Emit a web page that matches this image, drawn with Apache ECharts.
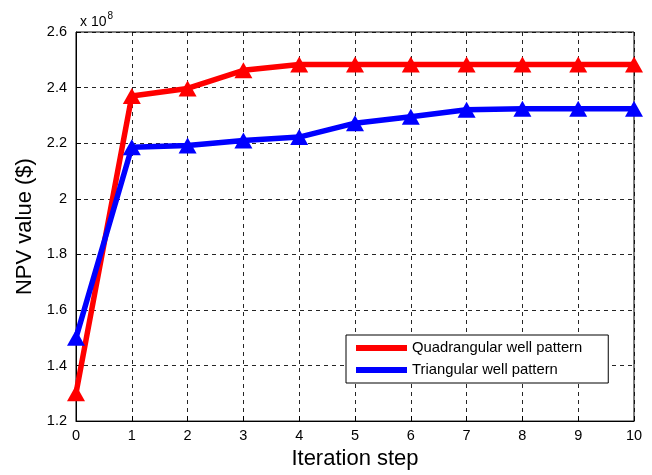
<!DOCTYPE html>
<html>
<head>
<meta charset="utf-8">
<script src="https://cdn.jsdelivr.net/npm/echarts@6/dist/echarts.min.js"></script>
<style>
  html, body { margin: 0; padding: 0; background: #fff; }
  #chart { width: 652px; height: 475px; }
</style>
</head>
<body>
<div id="chart"></div>
<script>
// Iteration steps of the optimisation
const steps = [0, 1, 2, 3, 4, 5, 6, 7, 8, 9, 10];
// NPV ($) per iteration for each well pattern
const npvQuadrangular = [1.30e8, 2.37e8, 2.397e8, 2.462e8, 2.483e8, 2.483e8, 2.483e8, 2.483e8, 2.483e8, 2.483e8, 2.483e8];
const npvTriangular   = [1.50e8, 2.185e8, 2.192e8, 2.21e8, 2.222e8, 2.272e8, 2.295e8, 2.32e8, 2.324e8, 2.324e8, 2.324e8];
const seriesNames = ['Quadrangular well pattern', 'Triangular well pattern'];
const yScale = 1e8;

const chart = echarts.init(document.getElementById('chart'), null, { renderer: 'canvas' });
const font = 'Liberation Sans, Arial, Helvetica, sans-serif';
const gridLine = { show: true, lineStyle: { color: '#000', type: [4, 4], width: 1, opacity: 0.85 } };

function mkSeries(name, vals, color) {
  return {
    name: name,
    type: 'line',
    data: steps.map((s, i) => [s, vals[i]]),
    symbol: 'triangle',
    symbolSize: [18, 16],
    lineStyle: { color: color, width: 5.5 },
    itemStyle: { color: color },
    emphasis: { disabled: true },
    z: 3
  };
}

chart.setOption({
  animation: false,
  backgroundColor: '#fff',
  grid: { left: 76, right: 18, top: 32, bottom: 50, show: true, borderColor: '#000', borderWidth: 1, backgroundColor: 'transparent' },
  title: {
    text: '{a|x 10}{b|8}',
    left: 75, top: 6,
    textStyle: { fontWeight: 'normal', rich: {
      a: { fontFamily: font, fontSize: 14, fontWeight: 'normal', color: '#000', verticalAlign: 'bottom' },
      b: { fontFamily: font, fontSize: 10, fontWeight: 'normal', color: '#000', verticalAlign: 'top', padding: [0, 0, 8, 1] }
    } }
  },
  legend: {
    data: seriesNames,
    orient: 'vertical',
    left: 346, top: 335,
    padding: [5, 26, 5, 10],
    itemGap: 6,
    itemWidth: 51, itemHeight: 6,
    backgroundColor: '#fff',
    borderColor: '#000', borderWidth: 1, borderRadius: 0,
    icon: 'rect',
    textStyle: { fontFamily: font, fontSize: 14.8, lineHeight: 16, color: '#000' }
  },
  xAxis: {
    type: 'value', min: 0, max: 10, interval: 1,
    name: 'Iteration step', nameLocation: 'middle', nameGap: 26,
    nameTextStyle: { fontFamily: font, fontSize: 22, color: '#000' },
    axisLine: { show: true, lineStyle: { color: '#000', width: 1 } },
    axisTick: { show: true, inside: true, length: 5, lineStyle: { color: '#000' } },
    axisLabel: { fontFamily: font, fontSize: 14.5, color: '#000', margin: 7 },
    splitLine: gridLine
  },
  yAxis: {
    type: 'value', min: 1.2e8, max: 2.6e8, interval: 0.2e8,
    name: 'NPV value ($)', nameLocation: 'middle', nameGap: 39,
    nameTextStyle: { fontFamily: font, fontSize: 22, color: '#000' },
    axisLine: { show: true, lineStyle: { color: '#000', width: 1 } },
    axisTick: { show: true, inside: true, length: 5, lineStyle: { color: '#000' } },
    axisLabel: {
      fontFamily: font, fontSize: 14.5, color: '#000', margin: 9,
      formatter: v => String(+(v / yScale).toFixed(1))
    },
    splitLine: gridLine
  },
  series: [
    mkSeries(seriesNames[0], npvQuadrangular, '#ff0000'),
    mkSeries(seriesNames[1], npvTriangular, '#0000ff')
  ]
});
</script>
</body>
</html>
